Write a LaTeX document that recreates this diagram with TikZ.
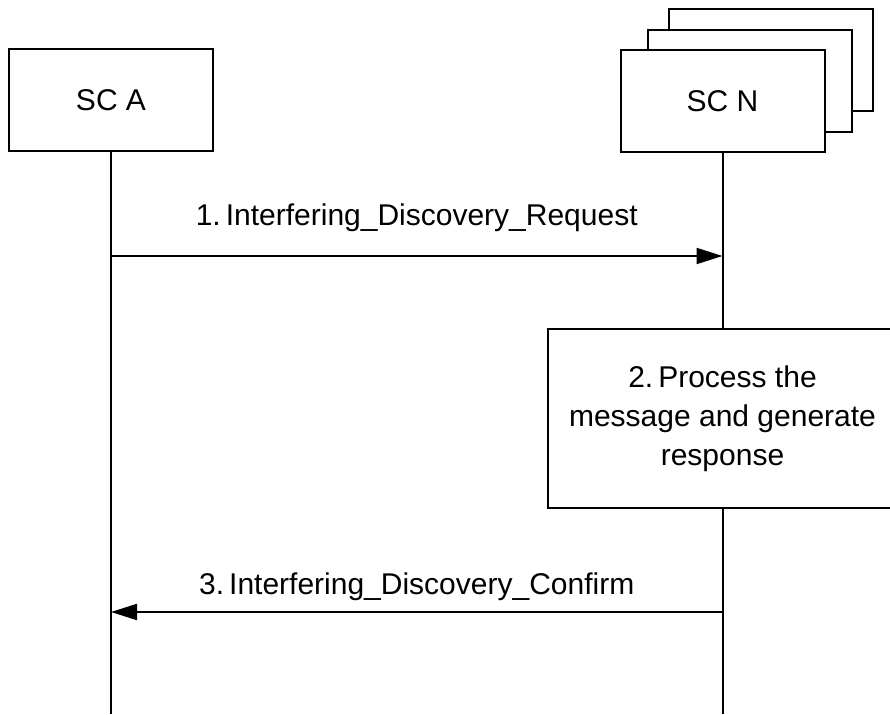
\documentclass[tikz,border=0pt]{standalone}
\usepackage{fontspec}
\setmainfont{Liberation Sans}
\usetikzlibrary{arrows.meta}
\frenchspacing
\begin{document}
\begin{tikzpicture}[x=1pt,y=-1pt,line width=2pt,
  box/.style={draw, fill=white, minimum width=204pt, minimum height=102pt, inner sep=0pt, font=\fontsize{30}{36}\selectfont},
  lbl/.style={font=\fontsize{30}{36}\selectfont, inner sep=0pt},
  procbox/.style={draw, fill=white, minimum width=350pt, minimum height=179pt, inner sep=0pt, align=center, font=\fontsize{30}{39}\selectfont},
  msg/.style={-{Triangle[length=26pt,width=16pt]}}]
\useasboundingbox (0,0) rectangle (890,714);
% SC N stack
\node[box] (scc) at (771,60) {};
\node[box] (scb) at (750,81.5) {};
\node[box] (scn) at (722.5,101.5) {SC N};
% SC A
\node[box] (sca) at (111,100.5) {SC A};
% process box
\node[procbox] (proc) at (722.5,418.5) {2.\,Process the\\message and generate\\response};
% lifelines
\coordinate (aend) at (111,714);
\coordinate (nend) at (722.5,714);
\draw (sca.south) -- (aend);
\draw (scn.south) -- (proc.north);
\draw (proc.south) -- (nend);
% message 1
\coordinate (a1) at (111,256);
\coordinate (n1) at (722.5,256);
\draw[msg] (a1) -- (n1);
\node[lbl] (l1) at (416.75,218) {1.\,Interfering\_Discovery\_Request};
% message 3
\coordinate (a3) at (111,612);
\coordinate (n3) at (722.5,612);
\draw[msg] (n3) -- (a3);
\node[lbl] (l3) at (416.75,587) {3.\,Interfering\_Discovery\_Confirm};
\end{tikzpicture}
\end{document}
